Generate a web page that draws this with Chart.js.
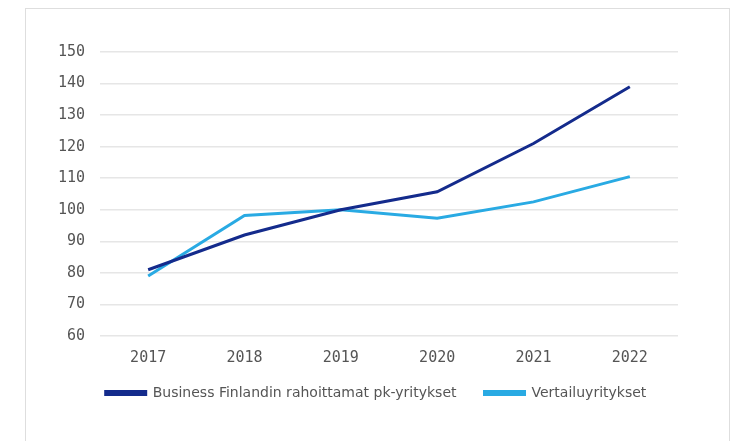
<!DOCTYPE html>
<html>
<head>
<meta charset="utf-8">
<script src="https://cdn.jsdelivr.net/npm/chart.js@4"></script>
<style>
  html, body { margin: 0; padding: 0; background: #fff; }
  .wrap { position: relative; width: 733px; height: 441px; overflow: hidden; }
  .frame { position: absolute; left: 25px; top: 8px; width: 703px; height: 480px; border: 1px solid #dedede; }
  canvas { position: absolute; left: 0; top: 0; }
</style>
</head>
<body>
<div class="wrap">
  <div class="frame"></div>
  <canvas id="chart" width="733" height="441"></canvas>
</div>
<script>
const years = ["2017", "2018", "2019", "2020", "2021", "2022"];
const fundedLabel = "Business Finlandin rahoittamat pk-yritykset";
const fundedValues = [81, 92, 100, 105.7, 121, 139];
const peerLabel = "Vertailuyritykset";
const peerValues = [79, 98.2, 100, 97.3, 102.5, 110.5];

const tickFont = { family: "'DejaVu Sans Mono', monospace", size: 15 };
const legendFont = { family: "'DejaVu Sans', sans-serif", size: 14 };

// nudge the legend, the original sits off-centre and close under the axis
const legendShift = {
	id: "legendShift",
	afterUpdate(chart) {
		const lg = chart.legend;
		if (!lg) return;
		const dx = 37, dy = -18;
		lg.left += dx;
		lg.right += dx;
		lg.top += dy;
		lg.bottom += dy;
	},
};

new Chart(document.getElementById("chart"), {
	type: "line",
	data: {
		labels: years,
		datasets: [
			{
				label: fundedLabel,
				data: fundedValues,
				borderColor: "#142b8c",
				backgroundColor: "#142b8c",
				borderWidth: 3,
				pointRadius: 0,
				tension: 0,
			},
			{
				label: peerLabel,
				data: peerValues,
				borderColor: "#29aae3",
				backgroundColor: "#29aae3",
				borderWidth: 3,
				pointRadius: 0,
				tension: 0,
			},
		],
	},
	options: {
		responsive: false,
		animation: false,
		layout: { padding: { left: 0, top: 52, right: 55, bottom: 13 } },
		plugins: {
			tooltip: { enabled: false },
			legend: {
				position: "bottom",
				labels: {
					color: "#555",
					font: legendFont,
					boxWidth: 40,
					boxHeight: 3,
					padding: 28,
				},
			},
		},
		scales: {
			x: {
				offset: true,
				grid: { display: false },
				border: { display: false },
				ticks: { color: "#555", font: tickFont, padding: 5 },
				afterFit: (scale) => { scale.height = 40; },
			},
			y: {
				min: 60,
				max: 150,
				grid: { color: "#e6e6e6", drawTicks: false, lineWidth: 1.5 },
				border: { display: false },
				ticks: { stepSize: 10, color: "#555", font: tickFont, padding: 15 },
				afterFit: (scale) => { scale.width = 100; },
			},
		},
	},
	plugins: [legendShift],
});
</script>
</body>
</html>
